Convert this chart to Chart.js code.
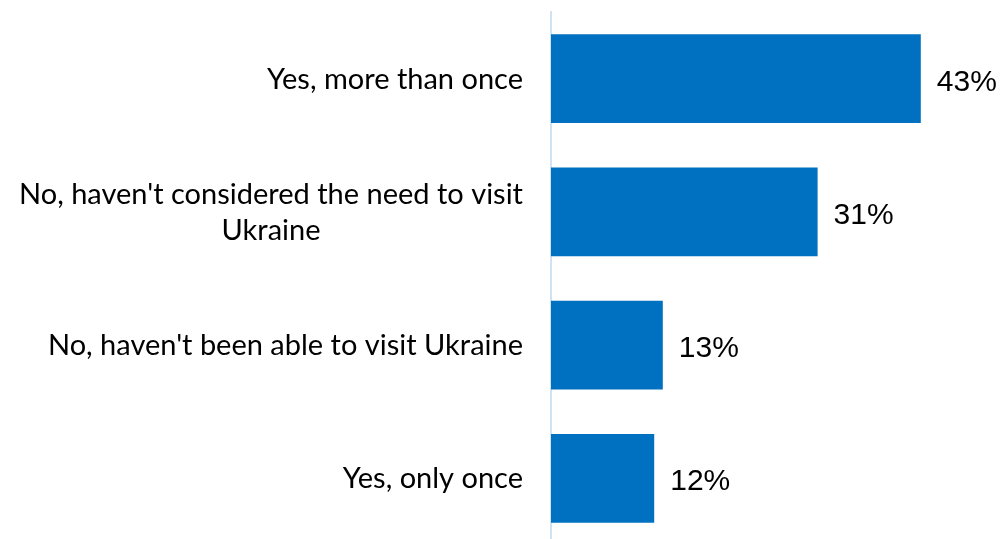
<!DOCTYPE html>
<html>
<head>
<meta charset="utf-8">
<title>Visits to Ukraine</title>
<script src="https://cdn.jsdelivr.net/npm/chart.js@4/dist/chart.umd.min.js"></script>
<style>
  html, body { margin: 0; padding: 0; background: #ffffff; overflow: hidden; }
  #wrap { width: 1004px; height: 545px; }
</style>
</head>
<body>
<div id="wrap"><canvas id="chart" width="1004" height="545"></canvas></div>
<script>
// Answer categories (multi-line labels as arrays of lines)
const categories = [
  ["Yes, more than once"],
  ["No, haven't considered the need to visit", "Ukraine"],
  ["No, haven't been able to visit Ukraine"],
  ["Yes, only once"]
];
// Share of respondents, percent
const shares = [43, 31, 13, 12];
const axisMax = 50;

const BAR_BLUE = '#0070C0';
const AXIS_BLUE = '#cfe3f5';
const LABEL_FONT = '29px Lato';
const LABEL_LINE = 36;
const VALUE_FONT = '30px "Liberation Sans", Arial, sans-serif';

// Category labels: block right-aligned next to the axis, lines centred inside the block
const categoryLabels = {
  id: 'categoryLabels',
  afterDraw(chart) {
    const ctx = chart.ctx;
    const yScale = chart.scales.y;
    const right = chart.chartArea.left - 28;
    ctx.save();
    ctx.font = LABEL_FONT;
    ctx.fillStyle = '#000000';
    ctx.textAlign = 'center';
    ctx.textBaseline = 'alphabetic';
    categories.forEach((lines, i) => {
      const cy = yScale.getPixelForTick(i);
      const widest = Math.max(...lines.map(l => ctx.measureText(l).width));
      const cx = right - widest / 2;
      const firstY = cy - (lines.length - 1) * LABEL_LINE / 2;
      lines.forEach((line, k) => {
        ctx.fillText(line, cx, firstY + k * LABEL_LINE + 10);
      });
    });
    ctx.restore();
  }
};

// Percentage labels to the right of each bar
const valueLabels = {
  id: 'valueLabels',
  afterDatasetsDraw(chart) {
    const ctx = chart.ctx;
    const meta = chart.getDatasetMeta(0);
    ctx.save();
    ctx.font = VALUE_FONT;
    ctx.fillStyle = '#000000';
    ctx.textAlign = 'left';
    ctx.textBaseline = 'alphabetic';
    meta.data.forEach((bar, i) => {
      ctx.fillText(shares[i] + '%', bar.x + 16, bar.y + 12);
    });
    ctx.restore();
  }
};

new Chart(document.getElementById('chart'), {
  type: 'bar',
  data: {
    labels: categories,
    datasets: [{
      data: shares,
      backgroundColor: BAR_BLUE,
      borderWidth: 0,
      barPercentage: 0.667,
      categoryPercentage: 1
    }]
  },
  options: {
    indexAxis: 'y',
    responsive: false,
    devicePixelRatio: 1,
    animation: false,
    layout: { padding: { top: 12, right: 23, bottom: 0, left: 0 } },
    plugins: {
      legend: { display: false },
      tooltip: { enabled: false }
    },
    scales: {
      x: {
        display: false,
        min: 0,
        max: axisMax
      },
      y: {
        grid: { display: false },
        border: { display: true, color: AXIS_BLUE, width: 2 },
        ticks: { display: false },
        afterFit(scale) { scale.width = 551; }
      }
    }
  },
  plugins: [categoryLabels, valueLabels]
});
</script>
</body>
</html>
